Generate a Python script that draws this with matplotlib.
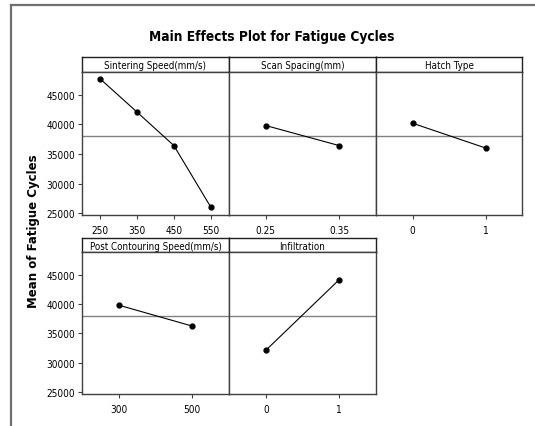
import matplotlib
matplotlib.use("Agg")
import matplotlib.pyplot as plt
from matplotlib.lines import Line2D

plt.rcParams['font.family'] = ['DejaVu Sans']
plt.rcParams['font.stretch'] = 'condensed'

# data
factors = ["Sintering Speed(mm/s)", "Scan Spacing(mm)", "Hatch Type",
           "Post Contouring Speed(mm/s)", "Infiltration"]
levels = [["250", "350", "450", "550"], ["0.25", "0.35"], ["0", "1"],
          ["300", "500"], ["0", "1"]]
means = [[47660, 42070, 36420, 26080], [39810, 36420], [40200, 36020],
         [39810, 36250], [32120, 44150]]
grand_mean = 38000
yticks = [25000, 30000, 35000, 40000, 45000]

W, H = 535, 427
fig = plt.figure(figsize=(W / 100, H / 100), dpi=100)

def box(x0, y0, x1, y1):
    return [x0 / W, 1 - y1 / H, (x1 - x0) / W, (y1 - y0) / H]

cols = [(82, 229), (229, 376), (376, 522)]
rows = [(58, 73, 216), (239, 253, 395)]

# outer frame (only left and top visible)
fig.add_artist(Line2D([11 / W, 11 / W], [0, 1 - 6 / H], color="#707070", lw=1.6))
fig.add_artist(Line2D([11 / W, 1], [1 - 6 / H, 1 - 6 / H], color="#707070", lw=1.6))

fig.text(272 / W, 1 - 37 / H, "Main Effects Plot for Fatigue Cycles",
         ha="center", va="center", fontsize=9.8, fontweight="bold")
fig.text(34 / W, 1 - 231 / H, "Mean of Fatigue Cycles", rotation=90,
         ha="center", va="center", fontsize=8.5, fontweight="bold",
         fontstretch="normal")

for i, name in enumerate(factors):
    r, c = divmod(i, 3)
    x0, x1 = cols[c]
    htop, pt, pb = rows[r]

    hax = fig.add_axes(box(x0, htop, x1, pt))
    hax.set_xticks([])
    hax.set_yticks([])
    for s in hax.spines.values():
        s.set_color("#202020")
        s.set_linewidth(1.0)
    hax.text(0.5, 0.45, name, ha="center", va="center", fontsize=7,
             transform=hax.transAxes)

    ax = fig.add_axes(box(x0, pt, x1, pb))
    n = len(levels[i])
    xs = list(range(n))
    ax.axhline(grand_mean, color="#808080", lw=1.0, zorder=1)
    ax.plot(xs, means[i], color="black", lw=0.8, marker="o", markersize=3.5,
            zorder=3)
    ax.set_xlim(-0.5, n - 0.5)
    ax.set_ylim(24700, 48850)
    ax.set_xticks(xs)
    ax.set_xticklabels(levels[i])
    ax.set_yticks(yticks)
    if c == 0:
        ax.set_yticklabels([str(v) for v in yticks])
    else:
        ax.tick_params(axis="y", left=False, labelleft=False)
    ax.tick_params(length=3, width=0.8, color="#404040", labelsize=7.2, pad=2)
    ax.tick_params(axis="x", pad=4)
    for s in ax.spines.values():
        s.set_color("#404040")
        s.set_linewidth(1.0)

fig.savefig("out.png", dpi=100)
